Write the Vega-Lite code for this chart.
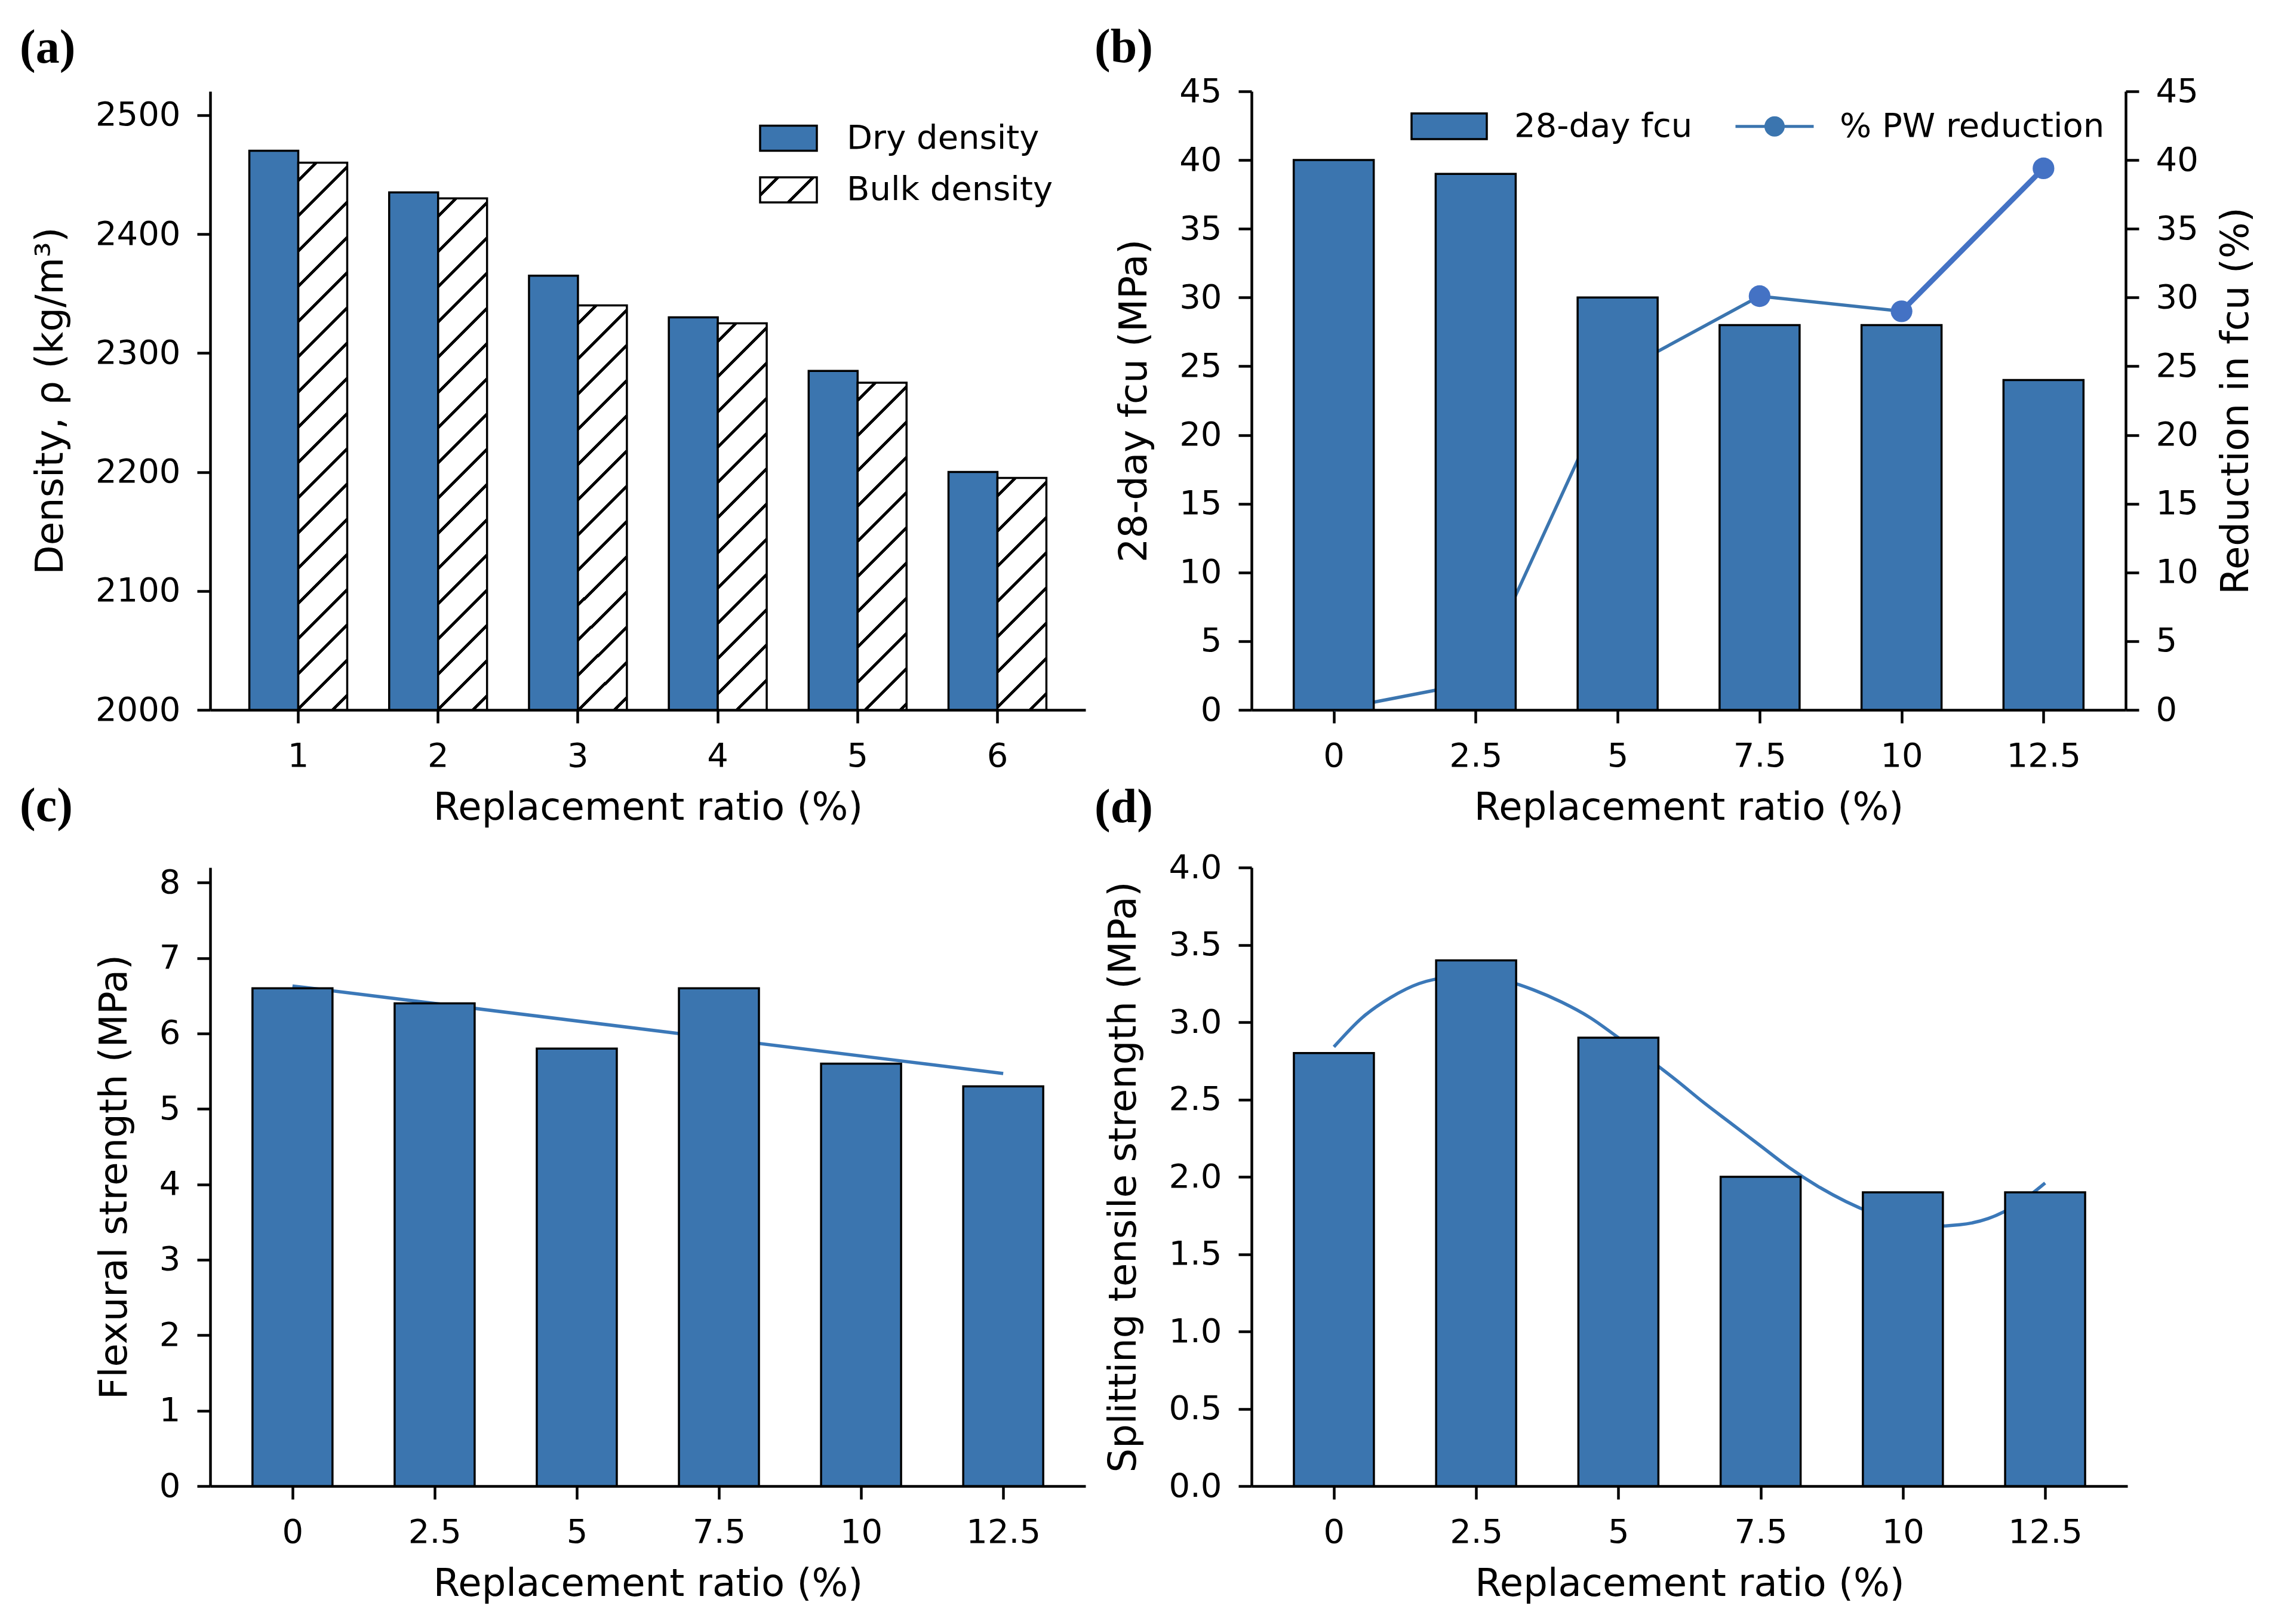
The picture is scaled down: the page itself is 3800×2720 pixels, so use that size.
{
  "$schema": "https://vega.github.io/schema/vega-lite/v6.json",
  "background": "white",
  "padding": {"left": 33, "top": 40, "right": 10, "bottom": 10},
  "columns": 2,
  "spacing": {"row": 264, "column": 278},
  "bounds": "flush",
  "datasets": {
    "density": [
      {"r": 1, "type": "Dry density", "d": 2470}, {"r": 1, "type": "Bulk density", "d": 2460},
      {"r": 2, "type": "Dry density", "d": 2435}, {"r": 2, "type": "Bulk density", "d": 2430},
      {"r": 3, "type": "Dry density", "d": 2365}, {"r": 3, "type": "Bulk density", "d": 2340},
      {"r": 4, "type": "Dry density", "d": 2330}, {"r": 4, "type": "Bulk density", "d": 2325},
      {"r": 5, "type": "Dry density", "d": 2285}, {"r": 5, "type": "Bulk density", "d": 2275},
      {"r": 6, "type": "Dry density", "d": 2200}, {"r": 6, "type": "Bulk density", "d": 2195}
    ],
    "fcu": [
      {"x": 0, "fcu": 40}, {"x": 2.5, "fcu": 39}, {"x": 5, "fcu": 30},
      {"x": 7.5, "fcu": 28}, {"x": 10, "fcu": 28}, {"x": 12.5, "fcu": 24}
    ],
    "pw": [
      {"x": 0, "red": 0}, {"x": 2.5, "red": 2}, {"x": 5, "red": 24.5},
      {"x": 7.5, "red": 30.1}, {"x": 10, "red": 29}, {"x": 12.5, "red": 39.4}
    ],
    "flex": [
      {"x": 0, "v": 6.6}, {"x": 2.5, "v": 6.4}, {"x": 5, "v": 5.8},
      {"x": 7.5, "v": 6.6}, {"x": 10, "v": 5.6}, {"x": 12.5, "v": 5.3}
    ],
    "flexfit": [
      {"x": 0, "v": 6.63}, {"x": 12.5, "v": 5.47}
    ],
    "split": [
      {"x": 0, "v": 2.8}, {"x": 2.5, "v": 3.4}, {"x": 5, "v": 2.9},
      {"x": 7.5, "v": 2.0}, {"x": 10, "v": 1.9}, {"x": 12.5, "v": 1.9}
    ],
    "splitfit": [
      {"x": 0, "v": 2.84}, {"x": 0.5, "v": 3.03}, {"x": 1, "v": 3.16}, {"x": 1.5, "v": 3.25},
      {"x": 2, "v": 3.29}, {"x": 2.5, "v": 3.30}, {"x": 3, "v": 3.27}, {"x": 3.5, "v": 3.21},
      {"x": 4, "v": 3.13}, {"x": 4.5, "v": 3.03}, {"x": 5, "v": 2.90}, {"x": 5.5, "v": 2.77},
      {"x": 6, "v": 2.63}, {"x": 6.5, "v": 2.48}, {"x": 7, "v": 2.34}, {"x": 7.5, "v": 2.20},
      {"x": 8, "v": 2.06}, {"x": 8.5, "v": 1.94}, {"x": 9, "v": 1.84}, {"x": 9.5, "v": 1.76},
      {"x": 10, "v": 1.70}, {"x": 10.5, "v": 1.68}, {"x": 11, "v": 1.69}, {"x": 11.5, "v": 1.73},
      {"x": 12, "v": 1.82}, {"x": 12.5, "v": 1.96}
    ]
  },
  "concat": [
    {
      "width": 1466,
      "height": 1036,
      "title": {"text": "(a)", "dx": -319, "dy": -27},
      "data": {"name": "density"},
      "encoding": {
        "x": {"field": "r", "type": "ordinal", "scale": {"paddingInner": 0.3, "paddingOuter": 0.28}, "axis": {"title": "Replacement ratio (%)", "labelAngle": 0}},
        "xOffset": {"field": "type", "type": "nominal", "scale": {"domain": ["Dry density", "Bulk density"], "paddingInner": 0, "paddingOuter": 0}},
        "y": {"field": "d", "type": "quantitative", "scale": {"domain": [2000, 2520], "zero": false, "nice": false}, "axis": {"title": "Density, ρ (kg/m³)", "values": [2000, 2100, 2200, 2300, 2400, 2500], "format": "d"}},
        "y2": {"datum": 2000}
      },
      "layer": [
        {
          "transform": [{"filter": "datum.type === 'Dry density'"}],
          "mark": {"type": "bar", "stroke": "#000", "strokeWidth": 3.5},
          "encoding": {
            "fill": {
              "field": "type", "type": "nominal",
              "scale": {"domain": ["Dry density", "Bulk density"], "range": ["#3b75af", {"expr": "{gradient:'linear',x1:0,y1:0,x2:8.8053,y2:3.8929,stops:[{offset:0,color:'#fff'},{offset:0.0265,color:'#fff'},{offset:0.0265,color:'#000'},{offset:0.0335,color:'#000'},{offset:0.0335,color:'#fff'},{offset:0.0855,color:'#fff'},{offset:0.0855,color:'#000'},{offset:0.0925,color:'#000'},{offset:0.0925,color:'#fff'},{offset:0.1445,color:'#fff'},{offset:0.1445,color:'#000'},{offset:0.1515,color:'#000'},{offset:0.1515,color:'#fff'},{offset:1,color:'#fff'}]}"}]},
              "legend": {
                "title": null, "orient": "none", "legendX": 919, "legendY": 29, "padding": 0,
                "symbolType": "M-1,-0.4421H1V0.4421H-1Z", "symbolSize": 9025,
                "symbolStrokeColor": "#000", "symbolStrokeWidth": 3.5, "symbolOpacity": 1,
                "labelOffset": 48, "rowPadding": 8.5
              }
            }
          }
        },
        {
          "transform": [{"filter": "datum.type === 'Bulk density' && datum.r === 1"}],
          "mark": {"type": "bar", "stroke": "#000", "strokeWidth": 3.5, "fill": {"gradient": "linear", "x1": 0, "y1": 0, "x2": 0.0968, "y2": 1.0825, "stops": [
            {"offset": 0, "color": "#fff"},
            {"offset": 0.0265, "color": "#fff"}, {"offset": 0.0265, "color": "#000"}, {"offset": 0.0335, "color": "#000"}, {"offset": 0.0335, "color": "#fff"},
            {"offset": 0.0855, "color": "#fff"}, {"offset": 0.0855, "color": "#000"}, {"offset": 0.0925, "color": "#000"}, {"offset": 0.0925, "color": "#fff"},
            {"offset": 0.1445, "color": "#fff"}, {"offset": 0.1445, "color": "#000"}, {"offset": 0.1515, "color": "#000"}, {"offset": 0.1515, "color": "#fff"},
            {"offset": 0.2035, "color": "#fff"}, {"offset": 0.2035, "color": "#000"}, {"offset": 0.2105, "color": "#000"}, {"offset": 0.2105, "color": "#fff"},
            {"offset": 0.2625, "color": "#fff"}, {"offset": 0.2625, "color": "#000"}, {"offset": 0.2695, "color": "#000"}, {"offset": 0.2695, "color": "#fff"},
            {"offset": 0.3215, "color": "#fff"}, {"offset": 0.3215, "color": "#000"}, {"offset": 0.3285, "color": "#000"}, {"offset": 0.3285, "color": "#fff"},
            {"offset": 0.3805, "color": "#fff"}, {"offset": 0.3805, "color": "#000"}, {"offset": 0.3875, "color": "#000"}, {"offset": 0.3875, "color": "#fff"},
            {"offset": 0.4395, "color": "#fff"}, {"offset": 0.4395, "color": "#000"}, {"offset": 0.4465, "color": "#000"}, {"offset": 0.4465, "color": "#fff"},
            {"offset": 0.4985, "color": "#fff"}, {"offset": 0.4985, "color": "#000"}, {"offset": 0.5055, "color": "#000"}, {"offset": 0.5055, "color": "#fff"},
            {"offset": 0.5575, "color": "#fff"}, {"offset": 0.5575, "color": "#000"}, {"offset": 0.5645, "color": "#000"}, {"offset": 0.5645, "color": "#fff"},
            {"offset": 0.6165, "color": "#fff"}, {"offset": 0.6165, "color": "#000"}, {"offset": 0.6235, "color": "#000"}, {"offset": 0.6235, "color": "#fff"},
            {"offset": 0.6755, "color": "#fff"}, {"offset": 0.6755, "color": "#000"}, {"offset": 0.6825, "color": "#000"}, {"offset": 0.6825, "color": "#fff"},
            {"offset": 0.7345, "color": "#fff"}, {"offset": 0.7345, "color": "#000"}, {"offset": 0.7415, "color": "#000"}, {"offset": 0.7415, "color": "#fff"},
            {"offset": 0.7935, "color": "#fff"}, {"offset": 0.7935, "color": "#000"}, {"offset": 0.8005, "color": "#000"}, {"offset": 0.8005, "color": "#fff"},
            {"offset": 0.8525, "color": "#fff"}, {"offset": 0.8525, "color": "#000"}, {"offset": 0.8595, "color": "#000"}, {"offset": 0.8595, "color": "#fff"},
            {"offset": 0.9115, "color": "#fff"}, {"offset": 0.9115, "color": "#000"}, {"offset": 0.9185, "color": "#000"}, {"offset": 0.9185, "color": "#fff"},
            {"offset": 0.9705, "color": "#fff"}, {"offset": 0.9705, "color": "#000"}, {"offset": 0.9775, "color": "#000"}, {"offset": 0.9775, "color": "#fff"},
            {"offset": 1, "color": "#fff"}
          ]}}
        },
        {
          "transform": [{"filter": "datum.type === 'Bulk density' && datum.r === 2"}],
          "mark": {"type": "bar", "stroke": "#000", "strokeWidth": 3.5, "fill": {"gradient": "linear", "x1": 0, "y1": 0, "x2": 0.1107, "y2": 1.1567, "stops": [
            {"offset": 0, "color": "#fff"},
            {"offset": 0.0265, "color": "#fff"}, {"offset": 0.0265, "color": "#000"}, {"offset": 0.0335, "color": "#000"}, {"offset": 0.0335, "color": "#fff"},
            {"offset": 0.0855, "color": "#fff"}, {"offset": 0.0855, "color": "#000"}, {"offset": 0.0925, "color": "#000"}, {"offset": 0.0925, "color": "#fff"},
            {"offset": 0.1445, "color": "#fff"}, {"offset": 0.1445, "color": "#000"}, {"offset": 0.1515, "color": "#000"}, {"offset": 0.1515, "color": "#fff"},
            {"offset": 0.2035, "color": "#fff"}, {"offset": 0.2035, "color": "#000"}, {"offset": 0.2105, "color": "#000"}, {"offset": 0.2105, "color": "#fff"},
            {"offset": 0.2625, "color": "#fff"}, {"offset": 0.2625, "color": "#000"}, {"offset": 0.2695, "color": "#000"}, {"offset": 0.2695, "color": "#fff"},
            {"offset": 0.3215, "color": "#fff"}, {"offset": 0.3215, "color": "#000"}, {"offset": 0.3285, "color": "#000"}, {"offset": 0.3285, "color": "#fff"},
            {"offset": 0.3805, "color": "#fff"}, {"offset": 0.3805, "color": "#000"}, {"offset": 0.3875, "color": "#000"}, {"offset": 0.3875, "color": "#fff"},
            {"offset": 0.4395, "color": "#fff"}, {"offset": 0.4395, "color": "#000"}, {"offset": 0.4465, "color": "#000"}, {"offset": 0.4465, "color": "#fff"},
            {"offset": 0.4985, "color": "#fff"}, {"offset": 0.4985, "color": "#000"}, {"offset": 0.5055, "color": "#000"}, {"offset": 0.5055, "color": "#fff"},
            {"offset": 0.5575, "color": "#fff"}, {"offset": 0.5575, "color": "#000"}, {"offset": 0.5645, "color": "#000"}, {"offset": 0.5645, "color": "#fff"},
            {"offset": 0.6165, "color": "#fff"}, {"offset": 0.6165, "color": "#000"}, {"offset": 0.6235, "color": "#000"}, {"offset": 0.6235, "color": "#fff"},
            {"offset": 0.6755, "color": "#fff"}, {"offset": 0.6755, "color": "#000"}, {"offset": 0.6825, "color": "#000"}, {"offset": 0.6825, "color": "#fff"},
            {"offset": 0.7345, "color": "#fff"}, {"offset": 0.7345, "color": "#000"}, {"offset": 0.7415, "color": "#000"}, {"offset": 0.7415, "color": "#fff"},
            {"offset": 0.7935, "color": "#fff"}, {"offset": 0.7935, "color": "#000"}, {"offset": 0.8005, "color": "#000"}, {"offset": 0.8005, "color": "#fff"},
            {"offset": 0.8525, "color": "#fff"}, {"offset": 0.8525, "color": "#000"}, {"offset": 0.8595, "color": "#000"}, {"offset": 0.8595, "color": "#fff"},
            {"offset": 0.9115, "color": "#fff"}, {"offset": 0.9115, "color": "#000"}, {"offset": 0.9185, "color": "#000"}, {"offset": 0.9185, "color": "#fff"},
            {"offset": 1, "color": "#fff"}
          ]}}
        },
        {
          "transform": [{"filter": "datum.type === 'Bulk density' && datum.r === 3"}],
          "mark": {"type": "bar", "stroke": "#000", "strokeWidth": 3.5, "fill": {"gradient": "linear", "x1": 0, "y1": 0, "x2": 0.1760, "y2": 1.4549, "stops": [
            {"offset": 0, "color": "#fff"},
            {"offset": 0.0265, "color": "#fff"}, {"offset": 0.0265, "color": "#000"}, {"offset": 0.0335, "color": "#000"}, {"offset": 0.0335, "color": "#fff"},
            {"offset": 0.0855, "color": "#fff"}, {"offset": 0.0855, "color": "#000"}, {"offset": 0.0925, "color": "#000"}, {"offset": 0.0925, "color": "#fff"},
            {"offset": 0.1445, "color": "#fff"}, {"offset": 0.1445, "color": "#000"}, {"offset": 0.1515, "color": "#000"}, {"offset": 0.1515, "color": "#fff"},
            {"offset": 0.2035, "color": "#fff"}, {"offset": 0.2035, "color": "#000"}, {"offset": 0.2105, "color": "#000"}, {"offset": 0.2105, "color": "#fff"},
            {"offset": 0.2625, "color": "#fff"}, {"offset": 0.2625, "color": "#000"}, {"offset": 0.2695, "color": "#000"}, {"offset": 0.2695, "color": "#fff"},
            {"offset": 0.3215, "color": "#fff"}, {"offset": 0.3215, "color": "#000"}, {"offset": 0.3285, "color": "#000"}, {"offset": 0.3285, "color": "#fff"},
            {"offset": 0.3805, "color": "#fff"}, {"offset": 0.3805, "color": "#000"}, {"offset": 0.3875, "color": "#000"}, {"offset": 0.3875, "color": "#fff"},
            {"offset": 0.4395, "color": "#fff"}, {"offset": 0.4395, "color": "#000"}, {"offset": 0.4465, "color": "#000"}, {"offset": 0.4465, "color": "#fff"},
            {"offset": 0.4985, "color": "#fff"}, {"offset": 0.4985, "color": "#000"}, {"offset": 0.5055, "color": "#000"}, {"offset": 0.5055, "color": "#fff"},
            {"offset": 0.5575, "color": "#fff"}, {"offset": 0.5575, "color": "#000"}, {"offset": 0.5645, "color": "#000"}, {"offset": 0.5645, "color": "#fff"},
            {"offset": 0.6165, "color": "#fff"}, {"offset": 0.6165, "color": "#000"}, {"offset": 0.6235, "color": "#000"}, {"offset": 0.6235, "color": "#fff"},
            {"offset": 0.6755, "color": "#fff"}, {"offset": 0.6755, "color": "#000"}, {"offset": 0.6825, "color": "#000"}, {"offset": 0.6825, "color": "#fff"},
            {"offset": 0.7345, "color": "#fff"}, {"offset": 0.7345, "color": "#000"}, {"offset": 0.7415, "color": "#000"}, {"offset": 0.7415, "color": "#fff"},
            {"offset": 1, "color": "#fff"}
          ]}}
        },
        {
          "transform": [{"filter": "datum.type === 'Bulk density' && datum.r === 4"}],
          "mark": {"type": "bar", "stroke": "#000", "strokeWidth": 3.5, "fill": {"gradient": "linear", "x1": 0, "y1": 0, "x2": 0.1924, "y2": 1.5201, "stops": [
            {"offset": 0, "color": "#fff"},
            {"offset": 0.0265, "color": "#fff"}, {"offset": 0.0265, "color": "#000"}, {"offset": 0.0335, "color": "#000"}, {"offset": 0.0335, "color": "#fff"},
            {"offset": 0.0855, "color": "#fff"}, {"offset": 0.0855, "color": "#000"}, {"offset": 0.0925, "color": "#000"}, {"offset": 0.0925, "color": "#fff"},
            {"offset": 0.1445, "color": "#fff"}, {"offset": 0.1445, "color": "#000"}, {"offset": 0.1515, "color": "#000"}, {"offset": 0.1515, "color": "#fff"},
            {"offset": 0.2035, "color": "#fff"}, {"offset": 0.2035, "color": "#000"}, {"offset": 0.2105, "color": "#000"}, {"offset": 0.2105, "color": "#fff"},
            {"offset": 0.2625, "color": "#fff"}, {"offset": 0.2625, "color": "#000"}, {"offset": 0.2695, "color": "#000"}, {"offset": 0.2695, "color": "#fff"},
            {"offset": 0.3215, "color": "#fff"}, {"offset": 0.3215, "color": "#000"}, {"offset": 0.3285, "color": "#000"}, {"offset": 0.3285, "color": "#fff"},
            {"offset": 0.3805, "color": "#fff"}, {"offset": 0.3805, "color": "#000"}, {"offset": 0.3875, "color": "#000"}, {"offset": 0.3875, "color": "#fff"},
            {"offset": 0.4395, "color": "#fff"}, {"offset": 0.4395, "color": "#000"}, {"offset": 0.4465, "color": "#000"}, {"offset": 0.4465, "color": "#fff"},
            {"offset": 0.4985, "color": "#fff"}, {"offset": 0.4985, "color": "#000"}, {"offset": 0.5055, "color": "#000"}, {"offset": 0.5055, "color": "#fff"},
            {"offset": 0.5575, "color": "#fff"}, {"offset": 0.5575, "color": "#000"}, {"offset": 0.5645, "color": "#000"}, {"offset": 0.5645, "color": "#fff"},
            {"offset": 0.6165, "color": "#fff"}, {"offset": 0.6165, "color": "#000"}, {"offset": 0.6235, "color": "#000"}, {"offset": 0.6235, "color": "#fff"},
            {"offset": 0.6755, "color": "#fff"}, {"offset": 0.6755, "color": "#000"}, {"offset": 0.6825, "color": "#000"}, {"offset": 0.6825, "color": "#fff"},
            {"offset": 1, "color": "#fff"}
          ]}}
        },
        {
          "transform": [{"filter": "datum.type === 'Bulk density' && datum.r === 5"}],
          "mark": {"type": "bar", "stroke": "#000", "strokeWidth": 3.5, "fill": {"gradient": "linear", "x1": 0, "y1": 0, "x2": 0.2670, "y2": 1.7852, "stops": [
            {"offset": 0, "color": "#fff"},
            {"offset": 0.0265, "color": "#fff"}, {"offset": 0.0265, "color": "#000"}, {"offset": 0.0335, "color": "#000"}, {"offset": 0.0335, "color": "#fff"},
            {"offset": 0.0855, "color": "#fff"}, {"offset": 0.0855, "color": "#000"}, {"offset": 0.0925, "color": "#000"}, {"offset": 0.0925, "color": "#fff"},
            {"offset": 0.1445, "color": "#fff"}, {"offset": 0.1445, "color": "#000"}, {"offset": 0.1515, "color": "#000"}, {"offset": 0.1515, "color": "#fff"},
            {"offset": 0.2035, "color": "#fff"}, {"offset": 0.2035, "color": "#000"}, {"offset": 0.2105, "color": "#000"}, {"offset": 0.2105, "color": "#fff"},
            {"offset": 0.2625, "color": "#fff"}, {"offset": 0.2625, "color": "#000"}, {"offset": 0.2695, "color": "#000"}, {"offset": 0.2695, "color": "#fff"},
            {"offset": 0.3215, "color": "#fff"}, {"offset": 0.3215, "color": "#000"}, {"offset": 0.3285, "color": "#000"}, {"offset": 0.3285, "color": "#fff"},
            {"offset": 0.3805, "color": "#fff"}, {"offset": 0.3805, "color": "#000"}, {"offset": 0.3875, "color": "#000"}, {"offset": 0.3875, "color": "#fff"},
            {"offset": 0.4395, "color": "#fff"}, {"offset": 0.4395, "color": "#000"}, {"offset": 0.4465, "color": "#000"}, {"offset": 0.4465, "color": "#fff"},
            {"offset": 0.4985, "color": "#fff"}, {"offset": 0.4985, "color": "#000"}, {"offset": 0.5055, "color": "#000"}, {"offset": 0.5055, "color": "#fff"},
            {"offset": 0.5575, "color": "#fff"}, {"offset": 0.5575, "color": "#000"}, {"offset": 0.5645, "color": "#000"}, {"offset": 0.5645, "color": "#fff"},
            {"offset": 0.6165, "color": "#fff"}, {"offset": 0.6165, "color": "#000"}, {"offset": 0.6235, "color": "#000"}, {"offset": 0.6235, "color": "#fff"},
            {"offset": 1, "color": "#fff"}
          ]}}
        },
        {
          "transform": [{"filter": "datum.type === 'Bulk density' && datum.r === 6"}],
          "mark": {"type": "bar", "stroke": "#000", "strokeWidth": 3.5, "fill": {"gradient": "linear", "x1": 0, "y1": 0, "x2": 0.5199, "y2": 2.4643, "stops": [
            {"offset": 0, "color": "#fff"},
            {"offset": 0.0265, "color": "#fff"}, {"offset": 0.0265, "color": "#000"}, {"offset": 0.0335, "color": "#000"}, {"offset": 0.0335, "color": "#fff"},
            {"offset": 0.0855, "color": "#fff"}, {"offset": 0.0855, "color": "#000"}, {"offset": 0.0925, "color": "#000"}, {"offset": 0.0925, "color": "#fff"},
            {"offset": 0.1445, "color": "#fff"}, {"offset": 0.1445, "color": "#000"}, {"offset": 0.1515, "color": "#000"}, {"offset": 0.1515, "color": "#fff"},
            {"offset": 0.2035, "color": "#fff"}, {"offset": 0.2035, "color": "#000"}, {"offset": 0.2105, "color": "#000"}, {"offset": 0.2105, "color": "#fff"},
            {"offset": 0.2625, "color": "#fff"}, {"offset": 0.2625, "color": "#000"}, {"offset": 0.2695, "color": "#000"}, {"offset": 0.2695, "color": "#fff"},
            {"offset": 0.3215, "color": "#fff"}, {"offset": 0.3215, "color": "#000"}, {"offset": 0.3285, "color": "#000"}, {"offset": 0.3285, "color": "#fff"},
            {"offset": 0.3805, "color": "#fff"}, {"offset": 0.3805, "color": "#000"}, {"offset": 0.3875, "color": "#000"}, {"offset": 0.3875, "color": "#fff"},
            {"offset": 0.4395, "color": "#fff"}, {"offset": 0.4395, "color": "#000"}, {"offset": 0.4465, "color": "#000"}, {"offset": 0.4465, "color": "#fff"},
            {"offset": 1, "color": "#fff"}
          ]}}
        }
      ]
    },
    {
      "width": 1464,
      "height": 1036,
      "title": {"text": "(b)", "dx": -263, "dy": 0},
      "layer": [
        {
          "data": {"name": "pw"},
          "encoding": {
            "x": {"field": "x", "type": "quantitative", "scale": {"domain": [-1.395, 13.895], "nice": false, "zero": false}, "axis": {"title": "Replacement ratio (%)", "values": [0, 2.5, 5, 7.5, 10, 12.5], "format": ".3~g"}},
            "y": {"field": "red", "type": "quantitative", "scale": {"domain": [0, 45], "nice": false}, "axis": {"orient": "right", "title": "Reduction in fcu (%)", "values": [0, 5, 10, 15, 20, 25, 30, 35, 40, 45], "format": "d", "titleAngle": 270, "titleBaseline": "top", "titlePadding": 32}}
          },
          "layer": [
            {
              "transform": [{"filter": "datum.x <= 10"}],
              "mark": {"type": "line", "strokeWidth": 5.5, "color": "#3b75af"}
            },
            {
              "transform": [{"filter": "datum.x >= 10"}],
              "mark": {"type": "line", "strokeWidth": 9, "color": "#4472c4"}
            },
            {
              "transform": [{"filter": "datum.x >= 7.5"}],
              "mark": {"type": "point", "filled": true, "size": 1320, "opacity": 1, "color": "#4472c4"}
            },
            {
              "transform": [{"filter": "datum.x === 0"}],
              "mark": {"type": "point", "filled": true, "opacity": 0, "color": "#3b75af"},
              "encoding": {
                "shape": {"datum": "28-day fcu", "type": "nominal",
                  "scale": {"domain": ["28-day fcu", "% PW reduction"], "range": ["M-0.9618,-0.3282H0.9618V0.3282H-0.9618Z", "M-1,-0.038H1V0.038H-1Z M-0.26,0A0.26,0.26 0 1,1 0.26,0A0.26,0.26 0 1,1 -0.26,0Z"]},
                  "legend": {"title": null, "orient": "none", "legendX": 263.5, "legendY": -9, "direction": "horizontal", "padding": 0, "symbolSize": 17161, "symbolStrokeWidth": 3.5, "symbolOpacity": 1, "symbolFillColor": "#3b75af", "labelOffset": 41.5, "columnPadding": 65}},
                "stroke": {"datum": "28-day fcu", "type": "nominal",
                  "scale": {"domain": ["28-day fcu", "% PW reduction"], "range": ["#000000", "transparent"]},
                  "legend": {"title": null, "orient": "none", "legendX": 263.5, "legendY": -9, "direction": "horizontal", "padding": 0, "symbolSize": 17161, "symbolStrokeWidth": 3.5, "symbolOpacity": 1, "symbolFillColor": "#3b75af", "labelOffset": 41.5, "columnPadding": 65}}
              }
            },
            {
              "transform": [{"filter": "datum.x === 0"}],
              "mark": {"type": "point", "filled": true, "opacity": 0, "color": "#3b75af"},
              "encoding": {
                "shape": {"datum": "% PW reduction", "type": "nominal",
                  "scale": {"domain": ["28-day fcu", "% PW reduction"], "range": ["M-0.9618,-0.3282H0.9618V0.3282H-0.9618Z", "M-1,-0.038H1V0.038H-1Z M-0.26,0A0.26,0.26 0 1,1 0.26,0A0.26,0.26 0 1,1 -0.26,0Z"]},
                  "legend": {"title": null, "orient": "none", "legendX": 263.5, "legendY": -9, "direction": "horizontal", "padding": 0, "symbolSize": 17161, "symbolStrokeWidth": 3.5, "symbolOpacity": 1, "symbolFillColor": "#3b75af", "labelOffset": 41.5, "columnPadding": 65}},
                "stroke": {"datum": "% PW reduction", "type": "nominal",
                  "scale": {"domain": ["28-day fcu", "% PW reduction"], "range": ["#000000", "transparent"]},
                  "legend": {"title": null, "orient": "none", "legendX": 263.5, "legendY": -9, "direction": "horizontal", "padding": 0, "symbolSize": 17161, "symbolStrokeWidth": 3.5, "symbolOpacity": 1, "symbolFillColor": "#3b75af", "labelOffset": 41.5, "columnPadding": 65}}
              }
            }
          ]
        },
        {
          "data": {"name": "fcu"},
          "mark": {"type": "bar", "width": 134, "color": "#3b75af", "stroke": "#000", "strokeWidth": 3.5},
          "encoding": {
            "x": {"field": "x", "type": "quantitative", "scale": {"domain": [-1.395, 13.895], "nice": false, "zero": false}, "axis": {"title": "Replacement ratio (%)", "values": [0, 2.5, 5, 7.5, 10, 12.5], "format": ".3~g"}},
            "y": {"field": "fcu", "type": "quantitative", "scale": {"domain": [0, 45], "nice": false}, "axis": {"orient": "left", "title": "28-day fcu (MPa)", "values": [0, 5, 10, 15, 20, 25, 30, 35, 40, 45], "format": "d"}}
          }
        }
      ],
      "resolve": {"scale": {"y": "independent"}}
    },
    {
      "width": 1466,
      "height": 1036,
      "title": {"text": "(c)", "dx": -319, "dy": -54},
      "encoding": {
        "x": {"field": "x", "type": "quantitative", "scale": {"domain": [-1.395, 13.895], "nice": false, "zero": false}, "axis": {"title": "Replacement ratio (%)", "values": [0, 2.5, 5, 7.5, 10, 12.5], "format": ".3~g"}},
        "y": {"field": "v", "type": "quantitative", "scale": {"domain": [0, 8.2], "nice": false}, "axis": {"title": "Flexural strength (MPa)", "values": [0, 1, 2, 3, 4, 5, 6, 7, 8], "format": "d"}}
      },
      "layer": [
        {"data": {"name": "flexfit"}, "mark": {"type": "line", "color": "#3b78b8", "strokeWidth": 5.5}},
        {"data": {"name": "flex"}, "mark": {"type": "bar", "width": 134, "color": "#3b75af", "stroke": "#000", "strokeWidth": 3.5}}
      ]
    },
    {
      "width": 1467,
      "height": 1036,
      "title": {"text": "(d)", "dx": -263, "dy": -27},
      "encoding": {
        "x": {"field": "x", "type": "quantitative", "scale": {"domain": [-1.395, 13.895], "nice": false, "zero": false}, "axis": {"title": "Replacement ratio (%)", "values": [0, 2.5, 5, 7.5, 10, 12.5], "format": ".3~g"}},
        "y": {"field": "v", "type": "quantitative", "scale": {"domain": [0, 4], "nice": false}, "axis": {"title": "Splitting tensile strength (MPa)", "values": [0, 0.5, 1, 1.5, 2, 2.5, 3, 3.5, 4], "format": ".1f"}}
      },
      "layer": [
        {"data": {"name": "splitfit"}, "mark": {"type": "line", "color": "#3b78b8", "strokeWidth": 5.5, "interpolate": "monotone"}},
        {"data": {"name": "split"}, "mark": {"type": "bar", "width": 134, "color": "#3b75af", "stroke": "#000", "strokeWidth": 3.5}}
      ]
    }
  ],
  "resolve": {"scale": {"fill": "independent", "shape": "independent", "stroke": "independent", "xOffset": "independent"}},
  "config": {
    "view": {"stroke": null},
    "font": "DejaVu Sans",
    "axis": {
      "domainColor": "#000", "domainWidth": 4.5, "tickColor": "#000", "tickWidth": 4.5, "tickSize": 22,
      "labelFont": "DejaVu Sans", "labelFontSize": 56, "labelColor": "#000", "labelPadding": 28,
      "titleFont": "DejaVu Sans", "titleFontSize": 64, "titleFontWeight": "normal", "titleColor": "#000",
      "grid": false, "labelFlush": false, "labelOverlap": false, "labelBound": false, "zindex": 1
    },
    "axisX": {"titlePadding": 27, "labelAngle": 0},
    "axisY": {"titlePadding": 42},
    "legend": {"labelFont": "DejaVu Sans", "labelFontSize": 56, "labelColor": "#000", "labelLimit": 0},
    "title": {"font": "Liberation Serif", "fontSize": 80, "fontWeight": "bold", "color": "#000", "anchor": "start", "frame": "group", "offset": 0, "baseline": "alphabetic"}
  }
}
